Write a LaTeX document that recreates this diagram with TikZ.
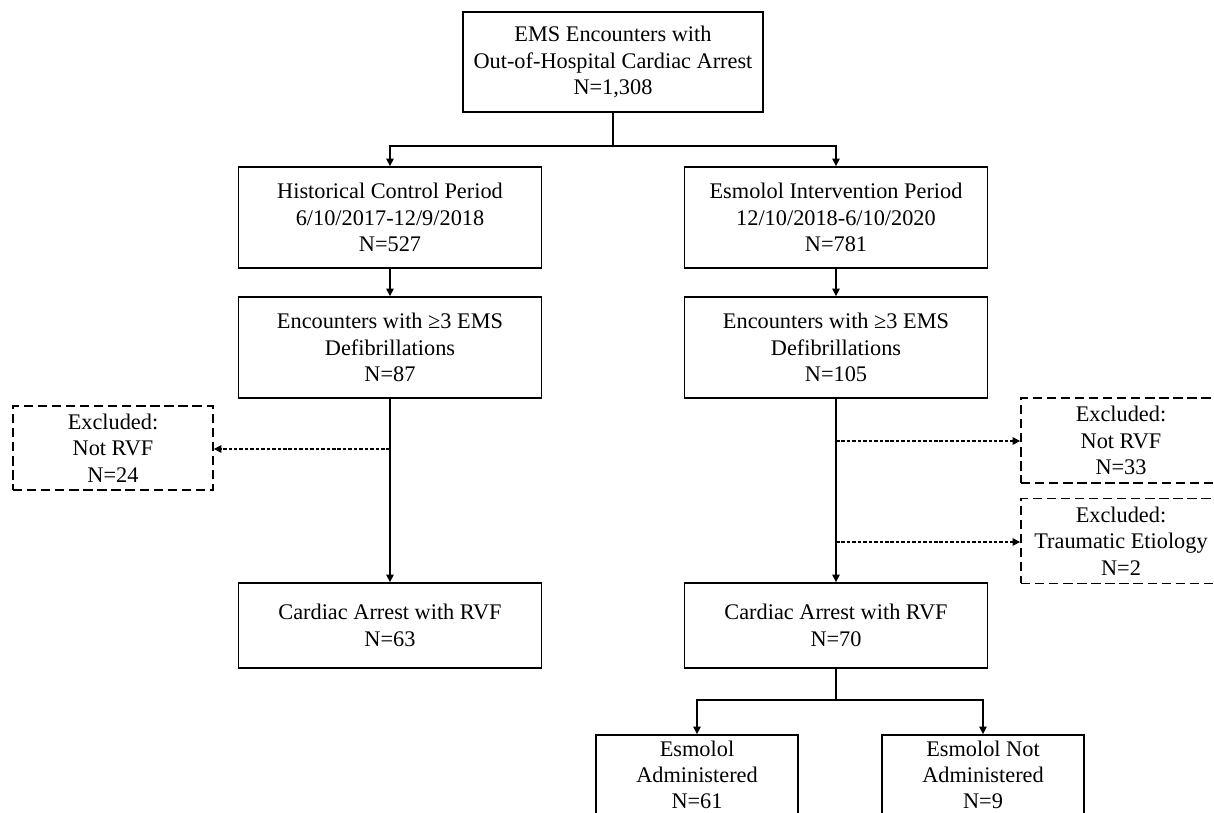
\documentclass[tikz,border=0pt]{standalone}
\usepackage{fontspec}
\setmainfont{Liberation Serif}
\usetikzlibrary{arrows.meta}
\begin{document}
\begin{tikzpicture}[x=0.02cm, y=-0.02cm,
    box/.style={draw, line width=1pt, align=center, inner sep=0pt, font=\fontsize{12.7}{15}\selectfont},
    exbox/.style={box, dash pattern=on 5.3pt off 2.7pt},
    flow/.style={line width=0.6pt, -{Triangle[length=1.5mm, width=1.5mm]}},
    skip/.style={flow, dash pattern=on 2pt off 1.1pt}]
    \useasboundingbox (0,0) rectangle (1214,813);
    \node[box, minimum width=6cm, minimum height=2cm] (ems) at (613,62) {EMS Encounters with\\Out-of-Hospital Cardiac Arrest\\N=1,308};
    \node[box, minimum width=6.06cm, minimum height=2.02cm] (hist) at (390,217.5) {Historical Control Period\\6/10/2017-12/9/2018\\N=527};
    \node[box, minimum width=6.06cm, minimum height=2.02cm] (esm) at (836,217.5) {Esmolol Intervention Period\\12/10/2018-6/10/2020\\N=781};
    \node[box, minimum width=6.06cm, minimum height=2.02cm] (histdef) at (390,347.5) {Encounters with ≥3 EMS\\Defibrillations\\N=87};
    \node[box, minimum width=6.06cm, minimum height=2.02cm] (esmdef) at (836,347.5) {Encounters with ≥3 EMS\\Defibrillations\\N=105};
    \node[exbox, minimum width=4cm, minimum height=1.68cm] (histnot) at (113,448) {Excluded:\\Not RVF\\N=24};
    \node[exbox, minimum width=4cm, minimum height=1.7cm] (esmnot) at (1121,440.5) {Excluded:\\Not RVF\\N=33};
    \node[exbox, minimum width=4cm, minimum height=1.7cm] (esmtrauma) at (1121,541) {Excluded:\\Traumatic Etiology\\N=2};
    \node[box, minimum width=6.06cm, minimum height=1.7cm] (histrvf) at (390,625.5) {Cardiac Arrest with RVF\\N=63};
    \node[box, minimum width=6.06cm, minimum height=1.7cm] (esmrvf) at (836,625.5) {Cardiac Arrest with RVF\\N=70};
    \node[box, minimum width=4.04cm, minimum height=1.6cm] (given) at (697,775) {Esmolol\\Administered\\N=61};
    \node[box, minimum width=4.04cm, minimum height=1.6cm] (notgiven) at (983,775) {Esmolol Not\\Administered\\N=9};
    \coordinate (split) at (613,146);
    \coordinate (lnot) at (390,449);
    \coordinate (rnot) at (836,441);
    \coordinate (rtrauma) at (836,542);
    \coordinate (bsplit) at (836,700);
    \draw[line width=0.6pt] (ems) -- (split);
    \draw[flow] (split) -| (hist);
    \draw[flow] (split) -| (esm);
    \draw[flow] (hist) -- (histdef);
    \draw[flow] (esm) -- (esmdef);
    \draw[flow] (histdef) -- (histrvf);
    \draw[flow] (esmdef) -- (esmrvf);
    \draw[skip] (lnot) -- (lnot -| histnot.east);
    \draw[skip] (rnot) -- (rnot -| esmnot.west);
    \draw[skip] (rtrauma) -- (rtrauma -| esmtrauma.west);
    \draw[line width=0.6pt] (esmrvf) -- (bsplit);
    \draw[flow] (bsplit) -| (given);
    \draw[flow] (bsplit) -| (notgiven);
\end{tikzpicture}
\end{document}
